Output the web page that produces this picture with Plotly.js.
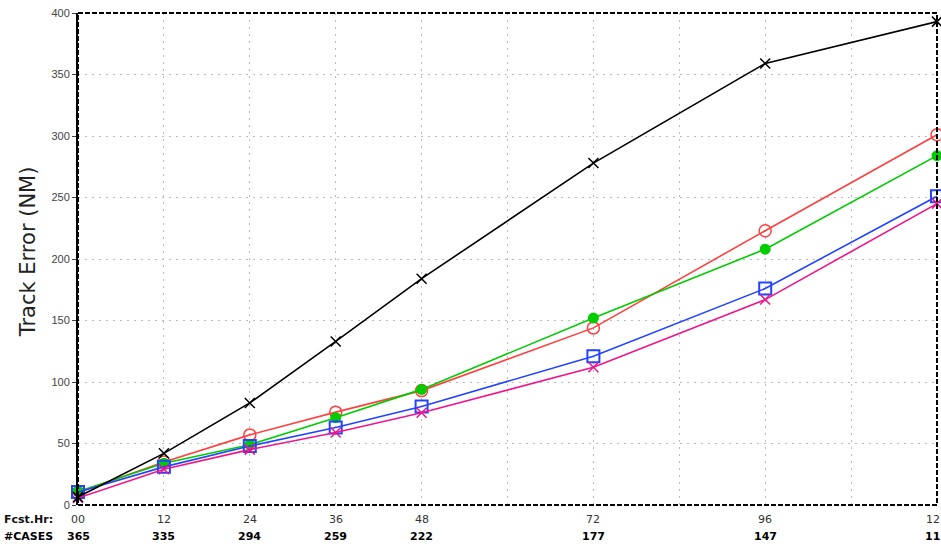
<!DOCTYPE html>
<html>
<head>
<meta charset="utf-8">
<script src="https://cdn.plot.ly/plotly-3.0.1.min.js"></script>
<style>
  html, body { margin: 0; padding: 0; background: #ffffff; }
  #chart { width: 941px; height: 544px; }
</style>
</head>
<body>
<div id="chart"></div>
<script>
// Forecast hours and verification sample sizes
const hours = [0, 12, 24, 36, 48, 72, 96, 120];
const hourLabels = ["00", "12", "24", "36", "48", "72", "96", "12"];
const caseLabels = ["365", "335", "294", "259", "222", "177", "147", "11"];
const gridHours = [0, 12, 24, 36, 48, 60, 72, 84, 96, 108, 120];

// Mean track errors (n mi) per model
const errBlack   = [6.5, 42, 83, 133, 184, 278, 359, 393];
const errRed     = [10, 35, 57, 75.5, 93, 144, 223, 301];
const errGreen   = [11, 34, 49, 71, 94, 152, 208, 284];
const errBlue    = [10.5, 31, 48, 63, 80, 121, 176, 251];
const errMagenta = [5.7, 29, 45, 59, 75, 112, 167, 245];

const traces = [
  { y: errRed, color: "#ff4040", marker: { symbol: "circle-open", size: 12, line: { width: 1.5, color: "#ff4040" } } },
  { y: errGreen, color: "#00cc00", marker: { symbol: "circle", size: 11, color: "#00cc00" } },
  { y: errBlue, color: "#2244ff", marker: { symbol: "square-open", size: 12, line: { width: 2, color: "#2244ff" } } },
  { y: errMagenta, color: "#f0148c", marker: { symbol: "x-thin-open", size: 10, line: { width: 1.5, color: "#f0148c" } } },
  { y: errBlack, color: "#000000", marker: { symbol: "x-thin-open", size: 10, line: { width: 1.5, color: "#000000" } } }
].map(s => ({
  x: hours,
  y: s.y,
  type: "scatter",
  mode: "lines+markers",
  line: { color: s.color, width: 1.6 },
  marker: Object.assign({ color: s.marker.color || s.color }, s.marker),
  cliponaxis: false,
  showlegend: false,
  hoverinfo: "x+y"
}));

const annotations = [];
const font = "Liberation Sans, Arial, sans-serif";
const wide = "DejaVu Sans, Verdana, sans-serif";
hours.forEach((h, i) => {
  const last = i === hours.length - 1;
  annotations.push({
    x: h, xref: "x", y: 0, yref: "paper", yanchor: "top", yshift: -6,
    xanchor: last ? "right" : "center", xshift: last ? 5 : 0,
    text: hourLabels[i], showarrow: false,
    font: { family: wide, size: 11, color: "#333333" }
  });
  annotations.push({
    x: h, xref: "x", y: 0, yref: "paper", yanchor: "top", yshift: -23,
    xanchor: last ? "right" : "center", xshift: last ? 5 : 0,
    text: "<b>" + caseLabels[i] + "</b>", showarrow: false,
    font: { family: wide, size: 11, color: "#000000" }
  });
});
annotations.push({
  x: -0.089, xref: "paper", y: 0, yref: "paper", xanchor: "left", yanchor: "top", yshift: -6,
  text: "<b>Fcst.Hr:</b>", showarrow: false,
  font: { family: wide, size: 11, color: "#111111" }
});
annotations.push({
  x: -0.089, xref: "paper", y: 0, yref: "paper", xanchor: "left", yanchor: "top", yshift: -23,
  text: "<b>#CASES</b>", showarrow: false,
  font: { family: wide, size: 11, color: "#000000" }
});
annotations.push({
  x: -0.058, xref: "paper", y: 0.514, yref: "paper", xanchor: "center", yanchor: "middle",
  text: "Track Error (NM)", textangle: -90, showarrow: false,
  font: { family: wide, size: 21, color: "#222222" }
});

const layout = {
  width: 941, height: 544,
  margin: { l: 78, r: 4, t: 13, b: 39 },
  paper_bgcolor: "#ffffff",
  plot_bgcolor: "#ffffff",
  xaxis: {
    range: [0, 120],
    tickvals: gridHours,
    showticklabels: false,
    ticks: "",
    showgrid: true,
    gridcolor: "#bbbbbb",
    griddash: "2px,5px",
    gridwidth: 1,
    zeroline: false,
    showline: false
  },
  yaxis: {
    range: [0, 400],
    tickvals: [0, 50, 100, 150, 200, 250, 300, 350, 400],
    ticks: "outside",
    ticklen: 4,
    tickcolor: "#444444",
    tickfont: { family: font, size: 11, color: "#444444" },
    showgrid: true,
    gridcolor: "#bbbbbb",
    griddash: "2px,5px",
    gridwidth: 1,
    zeroline: false,
    showline: true,
    linecolor: "#000000",
    linewidth: 2
  },
  shapes: [
    { type: "rect", xref: "paper", yref: "paper", x0: 0, x1: 1, y0: 0, y1: 1,
      line: { color: "#000000", width: 2, dash: "5px,2px" }, layer: "above" }
  ],
  annotations: annotations
};

Plotly.newPlot("chart", traces, layout, { displayModeBar: false, staticPlot: true });
</script>
</body>
</html>
